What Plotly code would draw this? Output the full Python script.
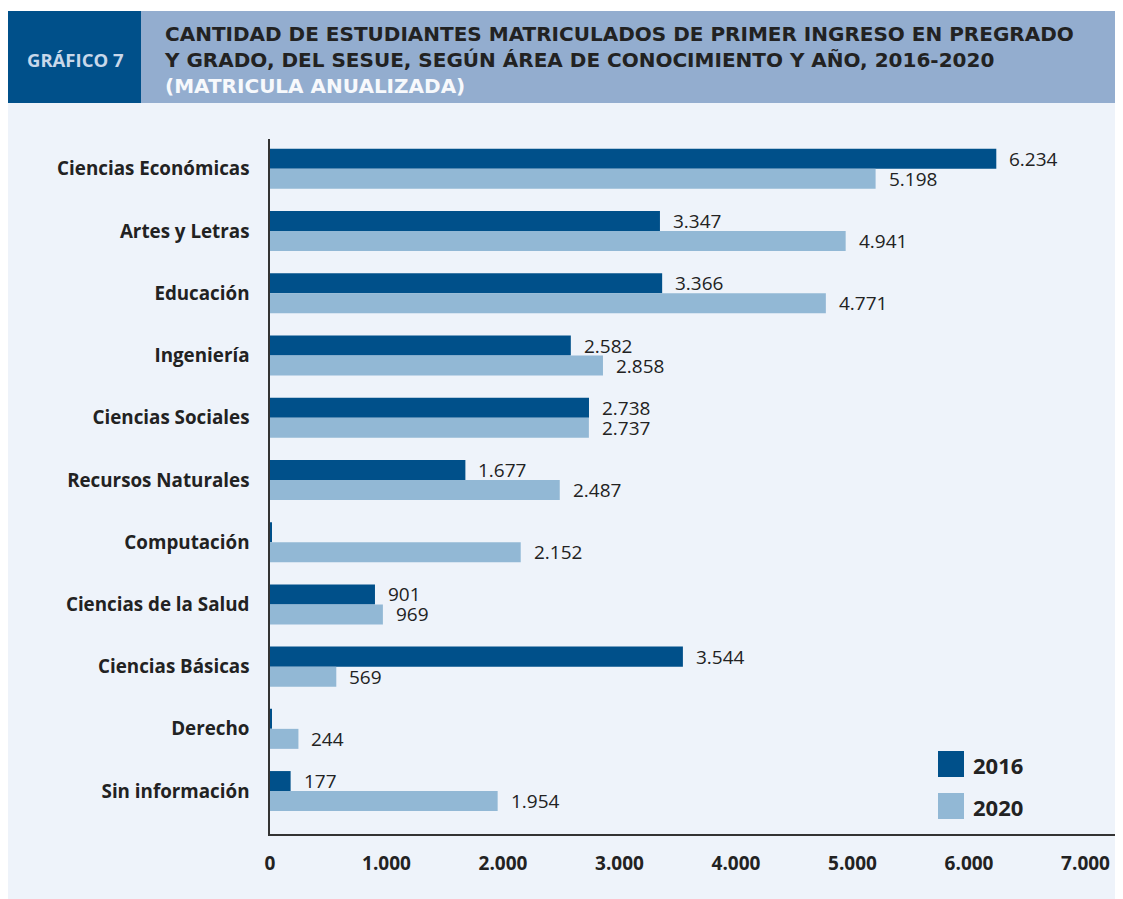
import plotly.graph_objects as go

categories = ["Ciencias Económicas", "Artes y Letras", "Educación", "Ingeniería",
              "Ciencias Sociales", "Recursos Naturales", "Computación",
              "Ciencias de la Salud", "Ciencias Básicas", "Derecho", "Sin información"]
values_2016 = [6234, 3347, 3366, 2582, 2738, 1677, 10, 901, 3544, 10, 177]
labels_2016 = ["6.234", "3.347", "3.366", "2.582", "2.738", "1.677", "", "901", "3.544", "", "177"]
values_2020 = [5198, 4941, 4771, 2858, 2737, 2487, 2152, 969, 569, 244, 1954]
labels_2020 = ["5.198", "4.941", "4.771", "2.858", "2.737", "2.487", "2.152", "969", "569", "244", "1.954"]
tick_vals = [0, 1000, 2000, 3000, 4000, 5000, 6000, 7000]
tick_text = ["0", "1.000", "2.000", "3.000", "4.000", "5.000", "6.000", "7.000"]
series_names = ["2016", "2020"]
title_lines = ["CANTIDAD DE ESTUDIANTES MATRICULADOS DE PRIMER INGRESO EN PREGRADO",
               "Y GRADO, DEL SESUE, SEGÚN ÁREA DE CONOCIMIENTO Y AÑO, 2016-2020",
               "(MATRICULA ANUALIZADA)"]

DARK = "#00508A"
LIGHT = "#92B8D5"
HEAD_LIGHT = "#93ADCF"
PANEL = "#EEF3FA"
TXT = "#222222"
FONT = "Open Sans"

OFF = 8  # page body margin
W, H = 1123 - OFF, 899 - OFF
# plot area in page pixels
L, R, T, B = 270, 1117, 139, 834


def px(x):
    return (x - L) / (R - L)


def py(y):
    return (B - y) / (B - T)


fig = go.Figure()
fig.add_trace(go.Bar(y=categories, x=values_2016, orientation="h", name=series_names[0],
                     marker=dict(color=DARK, line=dict(width=0)), showlegend=False))
fig.add_trace(go.Bar(y=categories, x=values_2020, orientation="h", name=series_names[1],
                     marker=dict(color=LIGHT, line=dict(width=0)), showlegend=False))

annotations = []
for c, v, t in zip(categories, values_2016, labels_2016):
    if t:
        annotations.append(dict(x=v, y=c, xref="x", yref="y", text=t, showarrow=False,
                                xanchor="left", yanchor="middle", xshift=11, yshift=10,
                                font=dict(family=FONT, size=19, color=TXT)))
for c, v, t in zip(categories, values_2020, labels_2020):
    if t:
        annotations.append(dict(x=v, y=c, xref="x", yref="y", text=t, showarrow=False,
                                xanchor="left", yanchor="middle", xshift=11, yshift=-10,
                                font=dict(family=FONT, size=19, color=TXT)))

# header texts
annotations.append(dict(x=px(75), y=py(59), xref="paper", yref="paper", text="<b>GRÁFICO 7</b>",
                        showarrow=False, xanchor="center", yanchor="middle",
                        font=dict(family=FONT, size=18.5, color="#C8D8EA")))
title_text = ("<b>" + title_lines[0] + "<br>" + title_lines[1] + "<br>"
              + "<span style='color:#F7F9FC'>" + title_lines[2] + "</span></b>")
annotations.append(dict(x=px(162), y=py(60), xref="paper", yref="paper",
                        text=title_text, showarrow=False, xanchor="left",
                        yanchor="middle", align="left",
                        font=dict(family="DejaVu Sans", size=20, color=TXT)))

shapes = [
    dict(type="rect", xref="paper", yref="paper", x0=px(7), x1=px(1130), y0=py(103), y1=py(905),
         fillcolor=PANEL, line=dict(width=0), layer="below"),
    dict(type="rect", xref="paper", yref="paper", x0=px(7), x1=px(141), y0=py(103), y1=py(11),
         fillcolor=DARK, line=dict(width=0), layer="below"),
    dict(type="rect", xref="paper", yref="paper", x0=px(141), x1=px(1130), y0=py(103), y1=py(11),
         fillcolor=HEAD_LIGHT, line=dict(width=0), layer="below"),
]
# legend
for i, (name, col) in enumerate(zip(series_names, [DARK, LIGHT])):
    y0 = 751 + i * 42
    shapes.append(dict(type="rect", xref="paper", yref="paper", x0=px(938), x1=px(964),
                       y0=py(y0 + 26), y1=py(y0), fillcolor=col, line=dict(width=0)))
    annotations.append(dict(x=px(971), y=py(y0 + 14), xref="paper", yref="paper",
                            text="<b>" + name + "</b>", showarrow=False, xanchor="left",
                            yanchor="middle", font=dict(family=FONT, size=22, color=TXT)))

fig.update_layout(
    width=W, height=H, autosize=False,
    margin=dict(l=L - OFF, r=W - (R - OFF), t=T - OFF, b=H - (B - OFF), pad=0),
    paper_bgcolor="white", plot_bgcolor="rgba(0,0,0,0)",
    barmode="group", bargap=0.357, bargroupgap=0,
    shapes=shapes, annotations=annotations,
    font=dict(family=FONT, color=TXT),
)
fig.update_xaxes(range=[0, 7270], tickvals=tick_vals, ticktext=tick_text, showgrid=False,
                 zeroline=False, showline=True, linecolor="#333333", linewidth=1.5,
                 ticks="", ticklabelstandoff=11,
                 tickfont=dict(family=FONT, size=19, color=TXT, weight="bold"))
fig.update_yaxes(categoryorder="array", categoryarray=categories, range=[10.69, -0.48],
                 showgrid=False, zeroline=False, showline=True, linecolor="#333333",
                 linewidth=1.5, ticks="", ticklabelstandoff=15,
                 tickfont=dict(family=FONT, size=18.8, color=TXT, weight="bold"))

fig.write_html("out.html")
